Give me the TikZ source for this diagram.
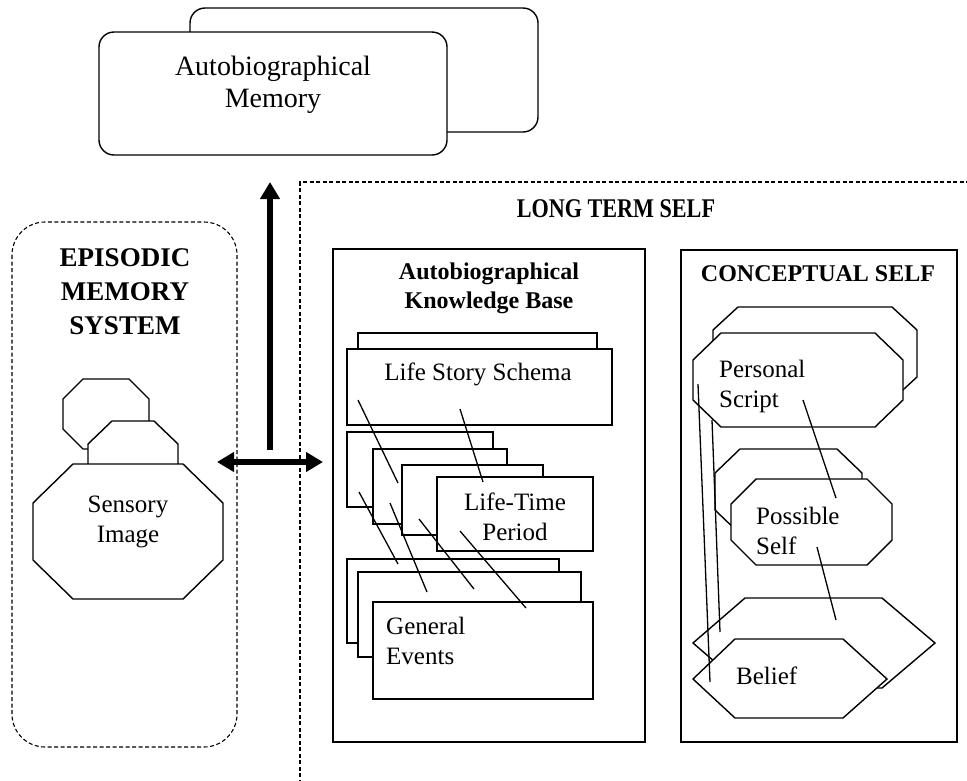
\documentclass[tikz,border=0pt]{standalone}
\usepackage{fontspec}
\usepackage{graphicx}
\setmainfont{Liberation Serif}
\usetikzlibrary{arrows.meta}
\newcommand\myocta[6]{% x1,y1,x2,y2,cutx,cuty
  \path[shapeline] (#1+#5,#2) -- (#3-#5,#2) -- (#3,#2+#6) -- (#3,#4-#6) -- (#3-#5,#4) -- (#1+#5,#4) -- (#1,#4-#6) -- (#1,#2+#6) -- cycle;}
\begin{document}
\begin{tikzpicture}[x=1pt,y=-1pt,
  shapeline/.style={draw=black, line width=1.4pt, fill=white, line join=miter},
  dashline/.style={draw=black, line width=1.1pt, dash pattern=on 4pt off 2.5pt},
  conn/.style={draw=black, line width=1.3pt},
  bigarrow/.style={line width=6pt},
  txt/.style={font=\fontsize{25}{30}\selectfont, inner sep=0pt, align=center},
  txtl/.style={font=\fontsize{25}{30}\selectfont, inner sep=0pt, align=left, anchor=west},
  title/.style={font=\bfseries\fontsize{24}{29}\selectfont, inner sep=0pt, align=center},
  bigtitle/.style={font=\bfseries\fontsize{27}{34}\selectfont, inner sep=0pt, align=center}]
\useasboundingbox (0,0) rectangle (967,780);
\clip (0,0) rectangle (967,780);

% ---------- Autobiographical memory (top) ----------
\path[shapeline, rounded corners=15pt] (190,8) rectangle (538,132);
\path[shapeline, rounded corners=15pt] (99,32) rectangle (447,155);
\node[txt, font=\fontsize{28}{32}\selectfont] (am) at (273,85) {Autobiographical\\Memory};

% ---------- Episodic memory system ----------
\path[dashline, rounded corners=33pt] (12,222) rectangle (237,747);
\node[bigtitle] (ems) at (125,292) {EPISODIC\\MEMORY\\SYSTEM};
\myocta{63}{379}{149}{449}{20}{20}
\myocta{88}{421}{178}{490}{24}{23}
\myocta{33}{464}{223}{599}{40}{39}
\node[txt] (si) at (128,522) {Sensory\\Image};

% ---------- Long term self ----------
\draw[dashline] (300,790) -- (300,182) -- (980,182);
\node[bigtitle] (lts) at (616,209) {\scalebox{0.82}[1]{LONG TERM SELF}};

% ---------- arrows ----------
\coordinate (vbot) at (270,450);
\coordinate (vtop) at (270,182);
\coordinate (hl) at (217,462);
\coordinate (hr) at (323,462);
\draw[bigarrow, -{Triangle[length=17pt,width=19pt]}] (vbot) -- (vtop);
\draw[bigarrow, {Triangle[length=17pt,width=19pt]}-{Triangle[length=17pt,width=19pt]}] (hl) -- (hr);

% ---------- Autobiographical knowledge base ----------
\path[shapeline] (333,249) rectangle (645,742);
\node[title] (akb) at (489,288) {Autobiographical\\Knowledge Base};
\path[shapeline] (358,333) rectangle (597,360);
\path[shapeline] (347,349) rectangle (612,425);
\node[txt] (lss) at (478,374) {Life Story Schema};
\path[shapeline] (347,432) rectangle (493,507);
\path[shapeline] (373,449) rectangle (507,524);
\path[shapeline] (402,465) rectangle (543,535);
\path[shapeline] (437,477) rectangle (593,551);
\node[txt] (ltp) at (515,517) {Life-Time\\Period};
\path[shapeline] (347,559) rectangle (559,643);
\path[shapeline] (358,572) rectangle (581,657);
\path[shapeline] (373,602) rectangle (593,699);
\node[txtl] (ge) at (386,641) {General\\Events};
\draw[conn] (358,400) -- (398,483);
\draw[conn] (460,409) -- (483,482);
\draw[conn] (359,492) -- (398,564);
\draw[conn] (390,503) -- (427,592);
\draw[conn] (419,519) -- (474,589);
\draw[conn] (460,531) -- (526,608);

% ---------- Conceptual self ----------
\path[shapeline] (681,250) rectangle (957,742);
\node[title] (cs) at (818,274) {CONCEPTUAL SELF};
\myocta{713}{307}{917}{400}{25}{23}
\myocta{693}{333}{903}{427}{28}{27}
\node[txtl] (ps) at (719,386) {Personal\\Script};
\myocta{715}{449}{862}{534}{25}{24}
\myocta{731}{479}{892}{565}{25}{25}
\node[txtl] (pos) at (756,531) {Possible\\Self};
\path[shapeline] (745,598) -- (882,598) -- (935,643) -- (882,688) -- (745,688) -- (693,643) -- cycle;
\path[shapeline] (735,639) -- (843,639) -- (887,679) -- (843,718) -- (735,718) -- (693,679) -- cycle;
\node[txtl] (bel) at (736,676) {Belief};
\draw[conn] (698,384) -- (710,682);
\draw[conn] (712,420) -- (720,632);
\draw[conn] (803,400) -- (836,498);
\draw[conn] (817,547) -- (836,620);
\end{tikzpicture}
\end{document}
